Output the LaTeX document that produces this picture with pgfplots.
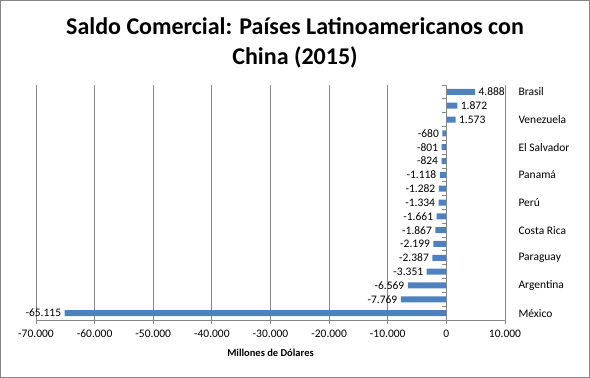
\documentclass[border=0pt]{standalone}
\usepackage{pgfplots}
\pgfplotsset{compat=1.18}
\usepackage{fontspec}
\setmainfont{Carlito}
\definecolor{barblue}{HTML}{4F81BD}
\definecolor{gridgray}{HTML}{868686}
\begin{document}
\begin{tikzpicture}
\draw[gridgray, line width=1.2pt] (0.6pt,0.6pt) rectangle (589.4pt,377.4pt);
\node[font=\fontsize{24}{28}\selectfont\bfseries] at (295pt,352pt) {Saldo Comercial: Países Latinoamericanos con};
\node[font=\fontsize{24}{28}\selectfont\bfseries] at (295pt,321pt) {China (2015)};
\begin{axis}[
  at={(36pt,58pt)}, anchor=south west,
  scale only axis, width=469pt, height=235pt,
  xbar, bar width=6pt,
  xmin=-70000, xmax=10000,
  xtick={-70000,-60000,-50000,-40000,-30000,-20000,-10000,0,10000},
  xticklabels={-70.000,-60.000,-50.000,-40.000,-30.000,-20.000,-10.000,0,10.000},
  scaled x ticks=false,
  ymin=0.5, ymax=17.5, y dir=reverse,
  ytick={1,3,...,17},
  yticklabels={Brasil,Venezuela,El Salvador,Panamá,Perú,Costa Rica,Paraguay,Argentina,México},
  axis x line*=bottom, axis y line*=right,
  y axis line style={draw=none},
  x axis line style={gridgray, line width=0.8pt, -},
  ytick style={draw=none},
  xtick style={gridgray, line width=0.8pt},
  tick align=outside, major tick length=4pt,
  xmajorgrids, grid style={gridgray, line width=0.8pt},
  yticklabel style={anchor=west, xshift=6pt, font=\fontsize{11.5}{13}\selectfont},
  xticklabel style={font=\fontsize{11.5}{13}\selectfont, anchor=north, text height=8pt, text depth=2pt, yshift=-2pt},
  xlabel={Millones de Dólares},
  xlabel style={font=\fontsize{10.5}{12}\selectfont\bfseries, yshift=-3pt},
  nodes near coords,
  point meta=x,
  nodes near coords align={horizontal},
  every node near coord/.append style={font=\fontsize{11.5}{13}\selectfont, /pgf/number format/.cd, fixed, 1000 sep={.}, assume math mode=true},
]
\addplot[fill=barblue, draw=none] coordinates {
(4888,1) (1872,2) (1573,3) (-680,4) (-801,5) (-824,6) (-1118,7) (-1282,8) (-1334,9)
(-1661,10) (-1867,11) (-2199,12) (-2387,13) (-3351,14) (-6569,15) (-7769,16) (-65115,17)
};
\draw[gridgray, line width=0.8pt] (axis cs:0,0.5) -- (axis cs:0,17.5);
\pgfplotsinvokeforeach{0.5,1.5,...,17.5}{
  \draw[gridgray, line width=0.8pt] (axis cs:0,#1) -- ++(-4pt,0pt);
}
\end{axis}
\end{tikzpicture}
\end{document}
